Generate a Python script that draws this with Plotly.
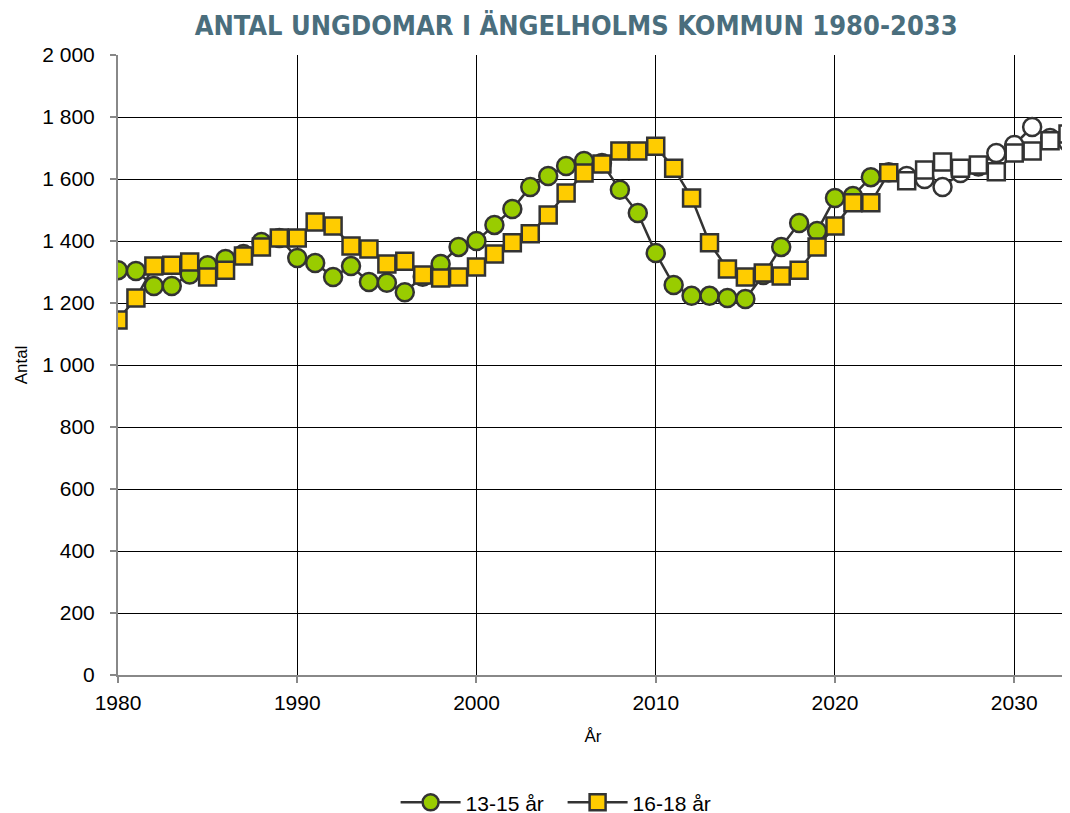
import plotly.graph_objects as go

years = list(range(1980, 2034))
ung_13_15 = [1306, 1303, 1255, 1255, 1292, 1322, 1342, 1358, 1397, 1410,
             1345, 1329, 1284, 1319, 1268, 1265, 1235, 1285, 1326, 1381,
             1400, 1452, 1503, 1574, 1610, 1642, 1658, 1652, 1565, 1490,
             1361, 1258, 1223, 1223, 1216, 1213, 1290, 1381, 1458, 1432,
             1539, 1545, 1606, 1622, 1610, 1600, 1574, 1619, 1640, 1684,
             1710, 1768, 1732, 1719]
ung_16_18 = [1145, 1216, 1319, 1322, 1332, 1284, 1306, 1352, 1381, 1410,
             1410, 1461, 1448, 1384, 1374, 1326, 1335, 1290, 1281, 1284,
             1316, 1358, 1394, 1423, 1484, 1555, 1619, 1648, 1690, 1690,
             1706, 1635, 1539, 1394, 1310, 1284, 1297, 1287, 1306, 1381,
             1448, 1523, 1523, 1620, 1594, 1629, 1655, 1635, 1645, 1623,
             1684, 1690, 1723, 1745]
forecast_start = 2024
y_ticks = list(range(0, 2001, 200))
x_ticks = list(range(1980, 2031, 10))

def fills(base):
    return [base if y < forecast_start else "white" for y in years]

line_col = "#333333"
fig = go.Figure()
fig.add_trace(go.Scatter(
    x=years, y=ung_13_15, name="13-15 år", mode="lines+markers",
    line=dict(color=line_col, width=2.5),
    marker=dict(symbol="circle", size=18, color=fills("#99cc00"),
                line=dict(color=line_col, width=2.5)),
))
fig.add_trace(go.Scatter(
    x=years, y=ung_16_18, name="16-18 år", mode="lines+markers",
    line=dict(color=line_col, width=2.5),
    marker=dict(symbol="square", size=17, color=fills("#ffcc00"),
                line=dict(color=line_col, width=2.5)),
))

font_family = "Liberation Sans, Arial, sans-serif"
fig.update_layout(
    width=1070, height=813,
    paper_bgcolor="white", plot_bgcolor="white",
    margin=dict(l=110, r=10, t=47, b=146, autoexpand=False),
    separators=", ",
    font=dict(family=font_family, size=21, color="black"),
    title=dict(text="<b>ANTAL UNGDOMAR I ÄNGELHOLMS KOMMUN 1980-2033</b>",
               x=0.531, xanchor="center", y=0.978, yanchor="middle",
               font=dict(family="DejaVu Sans Condensed, Liberation Sans Narrow, sans-serif",
                         size=27, color="#4a6e7d")),
    showlegend=True,
    legend=dict(orientation="h", x=0.468, xanchor="center", y=-0.206, yanchor="middle",
                font=dict(size=21), itemwidth=60,
                entrywidth=92, entrywidthmode="pixels"),
    xaxis=dict(range=[1980, 2033], tickvals=x_ticks, showgrid=True,
               gridcolor="#000000", gridwidth=1, showline=True, linecolor="#888888",
               linewidth=2, ticks="outside", ticklen=6, tickwidth=2, tickcolor="#888888",
               zeroline=False, mirror=False, automargin=False,
               tickfont=dict(size=21), ticklabelstandoff=2,
               title=dict(text="År", font=dict(size=17), standoff=17)),
    yaxis=dict(range=[0, 2000], tickvals=y_ticks, tickformat=",d",
               showgrid=True, gridcolor="#000000", gridwidth=1,
               showline=True, linecolor="#888888", linewidth=2, mirror=True,
               ticks="outside", ticklen=6, tickwidth=2, tickcolor="#888888", zeroline=False,
               automargin=False, tickfont=dict(size=21), ticklabelstandoff=11,
               title=dict(text="Antal", font=dict(size=17), standoff=10)),
)
fig.write_html("out.html")
